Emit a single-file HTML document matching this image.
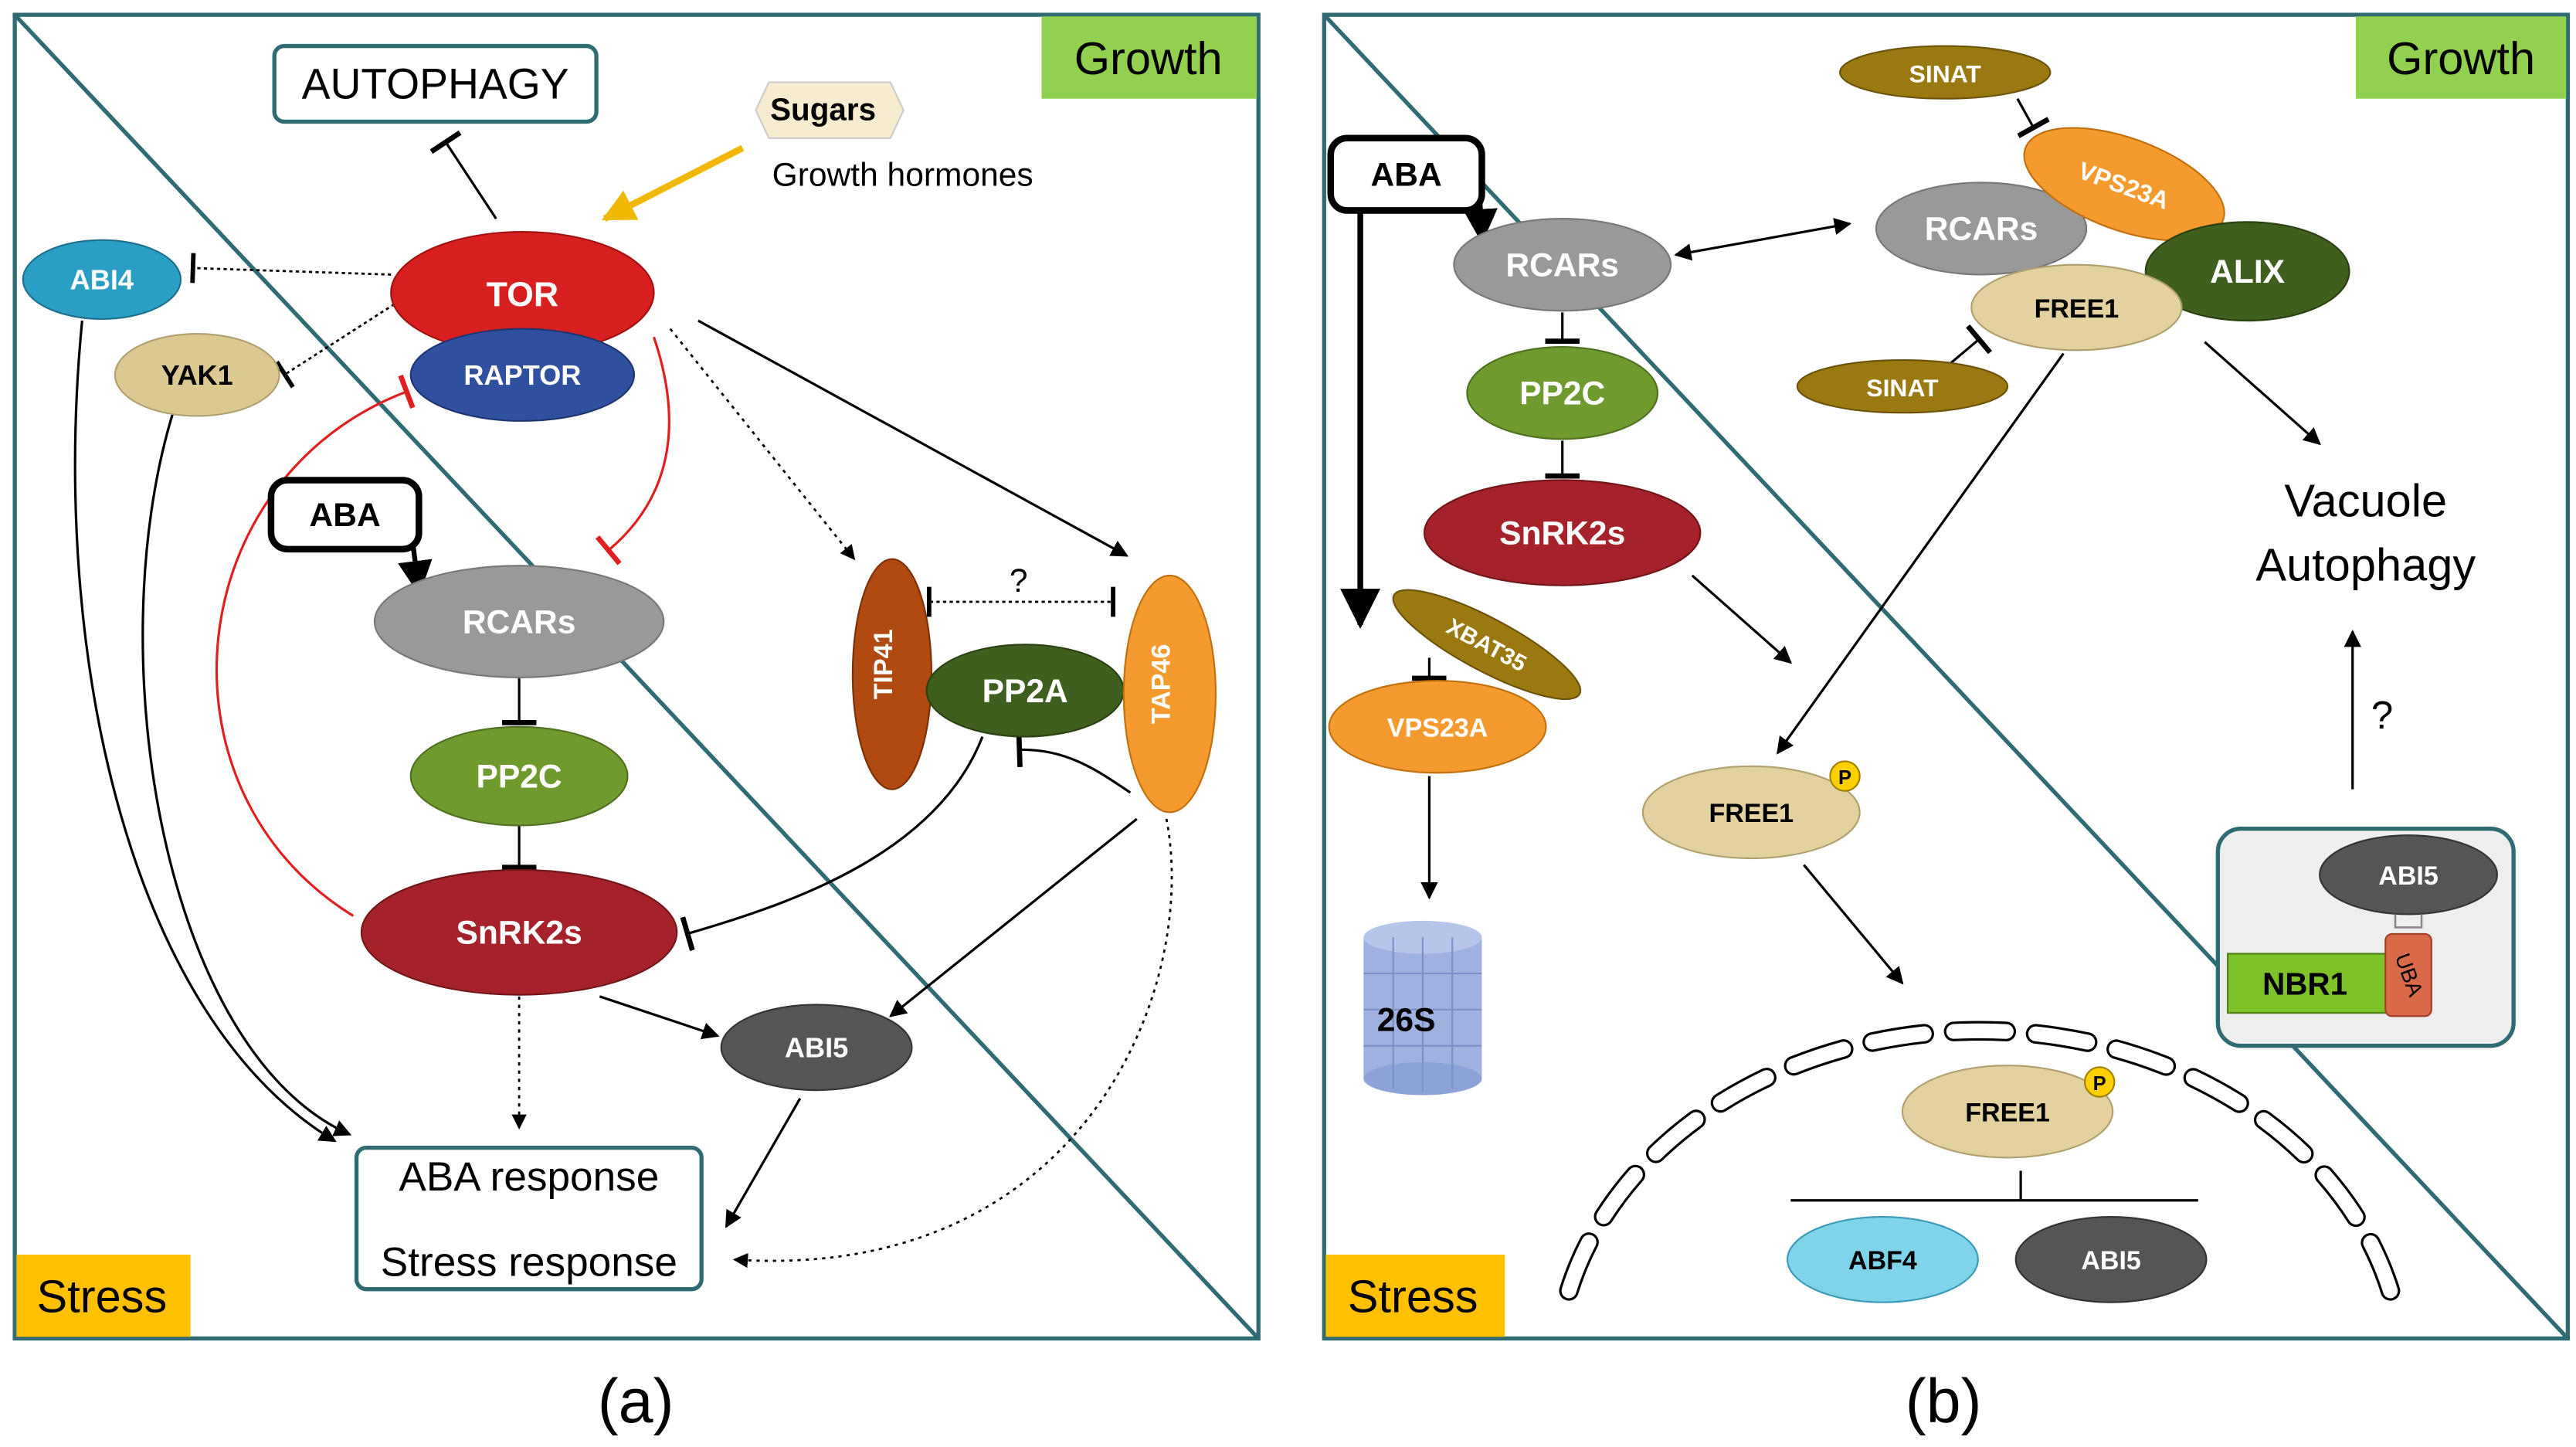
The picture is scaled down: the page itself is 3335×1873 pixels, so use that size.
<!DOCTYPE html>
<html><head><meta charset="utf-8"><style>
html,body{margin:0;padding:0;background:#fff;}
svg{display:block;}
text{font-family:"Liberation Sans",sans-serif;}
</style></head><body>
<svg width="3335" height="1873" viewBox="0 0 1568 880" preserveAspectRatio="none" xmlns="http://www.w3.org/2000/svg">
<defs>
<marker id="ah" viewBox="0 0 10 10" refX="9" refY="5" markerWidth="7" markerHeight="7" orient="auto-start-reverse"><path d="M0,0 L10,5 L0,10 z" fill="#000"/></marker>
<marker id="ahy" viewBox="0 0 10 10" refX="9" refY="5" markerWidth="5" markerHeight="5" orient="auto"><path d="M0,0 L10,5 L0,10 z" fill="#f0b800"/></marker>
<marker id="tb" viewBox="0 0 4 20" refX="2" refY="10" markerWidth="4" markerHeight="14" orient="auto"><rect x="0" y="0" width="3" height="20" fill="#000"/></marker>
<marker id="tbr" viewBox="0 0 4 20" refX="2" refY="10" markerWidth="4" markerHeight="14" orient="auto"><rect x="0" y="0" width="3" height="20" fill="#e02020"/></marker>
</defs>
<rect width="1568" height="880" fill="#fff"/>
<!-- Panel A -->
<rect x="9" y="9" width="757" height="805" fill="#fff" stroke="#2e6b73" stroke-width="2.5"/>
<line x1="9" y1="9" x2="766" y2="814" stroke="#2e6b73" stroke-width="2.5"/>
<rect x="634" y="10" width="131" height="50" fill="#92d050"/>
<text x="699" y="45" font-size="28" text-anchor="middle">Growth</text>
<rect x="10" y="763" width="106" height="50" fill="#ffc000"/>
<text x="62" y="798" font-size="28" text-anchor="middle">Stress</text>
<rect x="167" y="28" width="196" height="46" rx="6" fill="#fff" stroke="#2e6b73" stroke-width="2.5"/>
<text x="265" y="60" font-size="26" text-anchor="middle">AUTOPHAGY</text>
<polygon points="468,50 542,50 550,67 542,84 468,84 460,67" fill="#f7ecd0" stroke="#ccc"/>
<text x="501" y="73" font-size="19" font-weight="bold" text-anchor="middle">Sugars</text>
<text x="470" y="113" font-size="20">Growth hormones</text>
<line x1="452" y1="90" x2="368" y2="133" stroke="#f0b800" stroke-width="4" marker-end="url(#ahy)"/>
<line x1="302" y1="133" x2="271" y2="86" stroke="#000" stroke-width="1.5" marker-end="url(#tb)"/>
<line x1="238" y1="167" x2="117" y2="163" stroke="#000" stroke-width="1.3" stroke-dasharray="2,2" marker-end="url(#tb)"/>
<line x1="240" y1="185" x2="173" y2="228" stroke="#000" stroke-width="1.3" stroke-dasharray="2,2" marker-end="url(#tb)"/>
<path d="M398,205 C420,270 400,310 370,335" fill="none" stroke="#e02020" stroke-width="1.5" marker-end="url(#tbr)"/>
<path d="M215,557 C90,480 110,290 248,238" fill="none" stroke="#e02020" stroke-width="1.5" marker-end="url(#tbr)"/>
<line x1="408" y1="200" x2="520" y2="340" stroke="#000" stroke-width="1.3" stroke-dasharray="2,3" marker-end="url(#ah)"/>
<line x1="425" y1="195" x2="686" y2="338" stroke="#000" stroke-width="1.5" marker-end="url(#ah)"/>
<line x1="566" y1="366" x2="678" y2="366" stroke="#000" stroke-width="1.3" stroke-dasharray="2,2" marker-start="url(#tb)" marker-end="url(#tb)"/>
<text x="620" y="360" font-size="20" text-anchor="middle">?</text>
<path d="M688,482 C670,470 650,455 620,456" fill="none" stroke="#000" stroke-width="1.5" marker-end="url(#tb)"/>
<path d="M598,448 C570,520 480,550 418,568" fill="none" stroke="#000" stroke-width="1.5" marker-end="url(#tb)"/>
<line x1="692" y1="498" x2="542" y2="618" stroke="#000" stroke-width="1.5" marker-end="url(#ah)"/>
<path d="M710,498 C730,600 660,780 447,766" fill="none" stroke="#000" stroke-width="1.3" stroke-dasharray="2,3" marker-end="url(#ah)"/>
<path d="M210,320 L250,320 L255,360" fill="none" stroke="#000" stroke-width="3" marker-end="url(#ah)"/>
<line x1="316" y1="412" x2="316" y2="440" stroke="#000" stroke-width="1.5" marker-end="url(#tb)"/>
<line x1="316" y1="502" x2="316" y2="528" stroke="#000" stroke-width="1.5" marker-end="url(#tb)"/>
<line x1="316" y1="606" x2="316" y2="686" stroke="#000" stroke-width="1.3" stroke-dasharray="2,3" marker-end="url(#ah)"/>
<line x1="365" y1="606" x2="437" y2="630" stroke="#000" stroke-width="1.5" marker-end="url(#ah)"/>
<line x1="487" y1="668" x2="442" y2="746" stroke="#000" stroke-width="1.5" marker-end="url(#ah)"/>
<path d="M50,195 C30,400 80,620 204,694" fill="none" stroke="#000" stroke-width="1.5" marker-end="url(#ah)"/>
<path d="M105,252 C60,400 100,640 213,690" fill="none" stroke="#000" stroke-width="1.5" marker-end="url(#ah)"/>
<ellipse cx="62" cy="170" rx="48" ry="24" fill="#2a9ec4" stroke="#1d6f8c"/>
<text x="62" y="176" font-size="17" font-weight="bold" fill="#fff" text-anchor="middle">ABI4</text>
<ellipse cx="120" cy="228" rx="50" ry="25" fill="#dcc891" stroke="#b0a070"/>
<text x="120" y="234" font-size="17" font-weight="bold" text-anchor="middle">YAK1</text>
<ellipse cx="318" cy="178" rx="80" ry="37" fill="#d81f1f" stroke="#a01010"/>
<text x="318" y="186" font-size="21" font-weight="bold" fill="#fff" text-anchor="middle">TOR</text>
<ellipse cx="318" cy="228" rx="68" ry="28" fill="#2f4f9f" stroke="#1f3570"/>
<text x="318" y="234" font-size="17" font-weight="bold" fill="#fff" text-anchor="middle">RAPTOR</text>
<rect x="165" y="292" width="90" height="42" rx="10" fill="#fff" stroke="#000" stroke-width="4"/>
<text x="210" y="320" font-size="20" font-weight="bold" text-anchor="middle">ABA</text>
<ellipse cx="316" cy="378" rx="88" ry="34" fill="#999" stroke="#777"/>
<text x="316" y="385" font-size="20" font-weight="bold" fill="#fff" text-anchor="middle">RCARs</text>
<ellipse cx="316" cy="472" rx="66" ry="30" fill="#6e9a2e" stroke="#4f7020"/>
<text x="316" y="479" font-size="20" font-weight="bold" fill="#fff" text-anchor="middle">PP2C</text>
<ellipse cx="316" cy="567" rx="96" ry="38" fill="#a5222a" stroke="#701518"/>
<text x="316" y="574" font-size="20" font-weight="bold" fill="#fff" text-anchor="middle">SnRK2s</text>
<ellipse cx="497" cy="637" rx="58" ry="26" fill="#555" stroke="#333"/>
<text x="497" y="643" font-size="17" font-weight="bold" fill="#fff" text-anchor="middle">ABI5</text>
<ellipse cx="543" cy="410" rx="24" ry="70" fill="#b04a10" stroke="#7a3008"/>
<text x="549" y="410" font-size="16" font-weight="bold" fill="#fff" text-anchor="middle" transform="rotate(-90 543 410)">TIP41</text>
<ellipse cx="624" cy="420" rx="60" ry="28" fill="#3f5f1f" stroke="#2a4012"/>
<text x="624" y="427" font-size="20" font-weight="bold" fill="#fff" text-anchor="middle">PP2A</text>
<ellipse cx="712" cy="422" rx="28" ry="72" fill="#f59a2e" stroke="#c07010"/>
<text x="718" y="422" font-size="16" font-weight="bold" fill="#fff" text-anchor="middle" transform="rotate(-90 712 422)">TAP46</text>
<rect x="217" y="698" width="210" height="86" rx="6" fill="#fff" stroke="#2e6b73" stroke-width="2.5"/>
<text x="322" y="724" font-size="25" text-anchor="middle">ABA response</text>
<text x="322" y="776" font-size="25" text-anchor="middle">Stress response</text>
<text x="387" y="865" font-size="38" text-anchor="middle">(a)</text>

<!-- Panel B -->
<rect x="806" y="9" width="757" height="805" fill="#fff" stroke="#2e6b73" stroke-width="2.5"/>
<line x1="806" y1="9" x2="1563" y2="814" stroke="#2e6b73" stroke-width="2.5"/>
<rect x="1434" y="10" width="128" height="50" fill="#92d050"/>
<text x="1498" y="45" font-size="28" text-anchor="middle">Growth</text>
<rect x="807" y="763" width="109" height="50" fill="#ffc000"/>
<text x="860" y="798" font-size="28" text-anchor="middle">Stress</text>
<path d="M955,785 A258,210 0 0 1 1455,785" fill="none" stroke="#000" stroke-width="12" stroke-linecap="round" stroke-dasharray="32,18"/>
<path d="M955,785 A258,210 0 0 1 1455,785" fill="none" stroke="#fff" stroke-width="9" stroke-linecap="round" stroke-dasharray="32,18"/>
<path d="M856,105 L900,105 L902,146" fill="none" stroke="#000" stroke-width="3" marker-end="url(#ah)"/>
<line x1="828" y1="128" x2="828" y2="380" stroke="#000" stroke-width="3.5" marker-end="url(#ah)"/>
<line x1="951" y1="190" x2="951" y2="208" stroke="#000" stroke-width="1.5" marker-end="url(#tb)"/>
<line x1="951" y1="268" x2="951" y2="290" stroke="#000" stroke-width="1.5" marker-end="url(#tb)"/>
<line x1="870" y1="400" x2="870" y2="413" stroke="#000" stroke-width="1.5" marker-end="url(#tb)"/>
<line x1="870" y1="472" x2="870" y2="546" stroke="#000" stroke-width="1.5" marker-end="url(#ah)"/>
<line x1="1020" y1="155" x2="1126" y2="136" stroke="#000" stroke-width="1.5" marker-start="url(#ah)" marker-end="url(#ah)"/>
<line x1="1030" y1="350" x2="1090" y2="403" stroke="#000" stroke-width="1.5" marker-end="url(#ah)"/>
<line x1="1256" y1="215" x2="1082" y2="458" stroke="#000" stroke-width="1.5" marker-end="url(#ah)"/>
<line x1="1098" y1="526" x2="1158" y2="598" stroke="#000" stroke-width="1.5" marker-end="url(#ah)"/>
<line x1="1342" y1="208" x2="1412" y2="270" stroke="#000" stroke-width="1.5" marker-end="url(#ah)"/>
<line x1="1228" y1="60" x2="1238" y2="78" stroke="#000" stroke-width="1.5" marker-end="url(#tb)"/>
<line x1="1186" y1="222" x2="1205" y2="206" stroke="#000" stroke-width="1.5" marker-end="url(#tb)"/>
<line x1="1432" y1="480" x2="1432" y2="384" stroke="#000" stroke-width="1.5" marker-end="url(#ah)"/>
<text x="1450" y="443" font-size="24" text-anchor="middle">?</text>
<line x1="1090" y1="730" x2="1338" y2="730" stroke="#000" stroke-width="1.5"/>
<line x1="1230" y1="712" x2="1230" y2="730" stroke="#000" stroke-width="1.5"/>
<rect x="810" y="84" width="92" height="44" rx="10" fill="#fff" stroke="#000" stroke-width="4"/>
<text x="856" y="113" font-size="20" font-weight="bold" text-anchor="middle">ABA</text>
<ellipse cx="951" cy="161" rx="66" ry="28" fill="#999" stroke="#777"/>
<text x="951" y="168" font-size="20" font-weight="bold" fill="#fff" text-anchor="middle">RCARs</text>
<ellipse cx="951" cy="239" rx="58" ry="28" fill="#6e9a2e" stroke="#4f7020"/>
<text x="951" y="246" font-size="20" font-weight="bold" fill="#fff" text-anchor="middle">PP2C</text>
<ellipse cx="951" cy="324" rx="84" ry="32" fill="#a5222a" stroke="#701518"/>
<text x="951" y="331" font-size="20" font-weight="bold" fill="#fff" text-anchor="middle">SnRK2s</text>
<ellipse cx="905" cy="392" rx="64" ry="16" fill="#9a7a10" stroke="#6a5208" transform="rotate(28 905 392)"/>
<text x="905" y="397" font-size="14" font-weight="bold" fill="#fff" text-anchor="middle" transform="rotate(28 905 392)">XBAT35</text>
<ellipse cx="875" cy="442" rx="66" ry="28" fill="#f59a2e" stroke="#c07010"/>
<text x="875" y="448" font-size="16" font-weight="bold" fill="#fff" text-anchor="middle">VPS23A</text>
<g>
<rect x="830" y="570" width="72" height="86" fill="#9fb2df"/>
<ellipse cx="866" cy="656" rx="36" ry="10" fill="#8da2d6"/>
<ellipse cx="866" cy="570" rx="36" ry="10" fill="#b6c5ea"/>
<g stroke="#7d90c4" stroke-width="1" fill="none">
<line x1="830" y1="592" x2="902" y2="592"/><line x1="830" y1="614" x2="902" y2="614"/><line x1="830" y1="636" x2="902" y2="636"/>
<line x1="848" y1="570" x2="848" y2="662"/><line x1="866" y1="570" x2="866" y2="664"/><line x1="884" y1="570" x2="884" y2="662"/>
</g>
<text x="856" y="627" font-size="20" font-weight="bold" text-anchor="middle">26S</text>
</g>
<ellipse cx="1184" cy="44" rx="64" ry="16" fill="#9a7a10" stroke="#6a5208"/>
<text x="1184" y="50" font-size="15" font-weight="bold" fill="#fff" text-anchor="middle">SINAT</text>
<ellipse cx="1206" cy="139" rx="64" ry="28" fill="#999" stroke="#777"/>
<text x="1206" y="146" font-size="20" font-weight="bold" fill="#fff" text-anchor="middle">RCARs</text>
<ellipse cx="1293" cy="112" rx="64" ry="28" fill="#f59a2e" stroke="#c07010" transform="rotate(20 1293 112)"/>
<text x="1293" y="118" font-size="15" font-weight="bold" fill="#fff" text-anchor="middle" transform="rotate(20 1293 112)">VPS23A</text>
<ellipse cx="1368" cy="165" rx="62" ry="30" fill="#3f5f1f" stroke="#2a4012"/>
<text x="1368" y="172" font-size="20" font-weight="bold" fill="#fff" text-anchor="middle">ALIX</text>
<ellipse cx="1264" cy="187" rx="64" ry="26" fill="#e3d2a0" stroke="#b0a070"/>
<text x="1264" y="193" font-size="16" font-weight="bold" text-anchor="middle">FREE1</text>
<ellipse cx="1158" cy="235" rx="64" ry="16" fill="#9a7a10" stroke="#6a5208"/>
<text x="1158" y="241" font-size="15" font-weight="bold" fill="#fff" text-anchor="middle">SINAT</text>
<text x="1440" y="314" font-size="28" text-anchor="middle">Vacuole</text>
<text x="1440" y="353" font-size="28" text-anchor="middle">Autophagy</text>
<ellipse cx="1066" cy="494" rx="66" ry="28" fill="#e3d2a0" stroke="#b0a070"/>
<text x="1066" y="500" font-size="16" font-weight="bold" text-anchor="middle">FREE1</text>
<circle cx="1123" cy="472" r="9" fill="#ffd000" stroke="#a08000"/>
<text x="1123" y="477" font-size="12" font-weight="bold" text-anchor="middle">P</text>
<ellipse cx="1222" cy="676" rx="64" ry="28" fill="#e3d2a0" stroke="#b0a070"/>
<text x="1222" y="682" font-size="16" font-weight="bold" text-anchor="middle">FREE1</text>
<circle cx="1278" cy="658" r="9" fill="#ffd000" stroke="#a08000"/>
<text x="1278" y="663" font-size="12" font-weight="bold" text-anchor="middle">P</text>
<ellipse cx="1146" cy="766" rx="58" ry="26" fill="#7fd4ea" stroke="#3a9ab8"/>
<text x="1146" y="772" font-size="16" font-weight="bold" text-anchor="middle">ABF4</text>
<ellipse cx="1285" cy="766" rx="58" ry="26" fill="#555" stroke="#333"/>
<text x="1285" y="772" font-size="16" font-weight="bold" fill="#fff" text-anchor="middle">ABI5</text>
<rect x="1350" y="504" width="180" height="132" rx="14" fill="#eeeeee" stroke="#2e6b73" stroke-width="2.5"/>
<ellipse cx="1466" cy="532" rx="54" ry="24" fill="#555" stroke="#333"/>
<text x="1466" y="538" font-size="16" font-weight="bold" fill="#fff" text-anchor="middle">ABI5</text>
<path d="M1458,556 L1458,564 L1474,564 L1474,556" fill="none" stroke="#888" stroke-width="1.2"/>
<rect x="1356" y="580" width="98" height="36" fill="#7ec22a" stroke="#4f8015"/>
<text x="1403" y="605" font-size="19" font-weight="bold" text-anchor="middle">NBR1</text>
<rect x="1452" y="568" width="28" height="50" rx="4" fill="#d86a4a" stroke="#a04020"/>
<text x="1466" y="597" font-size="13" text-anchor="middle" transform="rotate(70 1466 593)">UBA</text>
<text x="1183" y="865" font-size="38" text-anchor="middle">(b)</text>
</svg>
</body></html>
